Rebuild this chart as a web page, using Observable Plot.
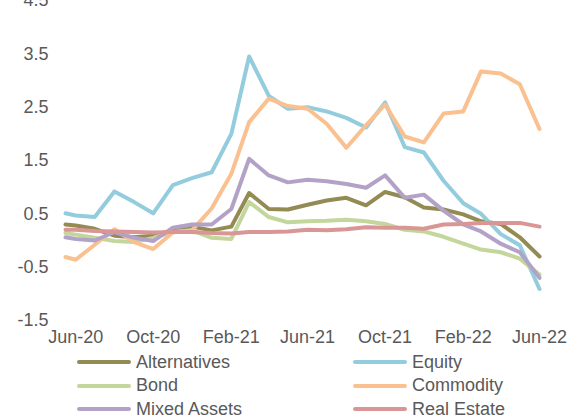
<!DOCTYPE html>
<html>
<head>
<meta charset="utf-8">
<script src="https://cdn.jsdelivr.net/npm/d3@7"></script>
<script src="https://cdn.jsdelivr.net/npm/@observablehq/plot@0.6"></script>
<style>
  html, body { margin: 0; padding: 0; background: #fff; }
  #wrap { width: 570px; height: 416px; overflow: hidden; position: relative; font-family: "Liberation Sans", Arial, sans-serif; }
  #legend { position: relative; height: 66px; }
  .item { position: absolute; display: flex; align-items: center; height: 24px; font-size: 18px; color: #595959; white-space: nowrap; }
  .sw { width: 54px; height: 4px; border-radius: 2px; margin-right: 5px; }
</style>
</head>
<body>
<div id="wrap"><div id="chart"></div><div id="legend"></div></div>
<script>
// Dates of the observations (first one is a partial-month point before Jun-20)
const dates = [
  "2020-05-16","2020-06-01","2020-07-01","2020-08-01","2020-09-01","2020-10-01","2020-11-01",
  "2020-12-01","2021-01-01","2021-02-01","2021-03-01","2021-04-01","2021-05-01","2021-06-01",
  "2021-07-01","2021-08-01","2021-09-01","2021-10-01","2021-11-01","2021-12-01","2022-01-01",
  "2022-02-01","2022-03-01","2022-04-01","2022-05-01","2022-06-01"
];
const seriesNames = ["Alternatives","Equity","Bond","Commodity","Mixed Assets","Real Estate"];
const seriesColors = ["#948A54","#93CDDD","#C3D69B","#FAC090","#B3A2C7","#D99694"];

const alternatives = [0.30,0.28,0.22,0.09,0.06,0.09,0.19,0.26,0.19,0.26,0.89,0.59,0.58,0.67,0.75,0.80,0.66,0.91,0.81,0.62,0.58,0.49,0.36,0.31,0.06,-0.30];
const equity       = [0.51,0.47,0.44,0.92,0.72,0.51,1.04,1.17,1.28,2.00,3.45,2.71,2.47,2.50,2.42,2.30,2.12,2.59,1.75,1.65,1.12,0.70,0.50,0.12,-0.09,-0.91];
const bond         = [0.14,0.11,0.05,-0.01,-0.03,0.05,0.16,0.19,0.05,0.03,0.72,0.44,0.34,0.36,0.37,0.39,0.36,0.31,0.20,0.17,0.07,-0.06,-0.17,-0.22,-0.34,-0.64];
const commodity    = [-0.31,-0.36,-0.08,0.21,-0.03,-0.16,0.15,0.19,0.60,1.25,2.22,2.66,2.52,2.47,2.19,1.74,2.16,2.55,1.95,1.84,2.38,2.42,3.17,3.13,2.93,2.09];
const mixedAssets  = [0.06,0.03,0.00,0.16,0.05,-0.01,0.24,0.30,0.30,0.59,1.53,1.22,1.09,1.14,1.11,1.06,0.99,1.22,0.80,0.86,0.56,0.30,0.17,-0.06,-0.22,-0.70];
const realEstate   = [0.20,0.20,0.18,0.17,0.16,0.15,0.16,0.16,0.14,0.13,0.16,0.16,0.17,0.20,0.19,0.21,0.25,0.24,0.24,0.22,0.30,0.31,0.33,0.33,0.33,0.26];

const xTickLabels = ["2020-06-01","2020-10-01","2021-02-01","2021-06-01","2021-10-01","2022-02-01","2022-06-01"];
const yTicks = [-1.5,-0.5,0.5,1.5,2.5,3.5,4.5];

const seriesValues = [alternatives, equity, bond, commodity, mixedAssets, realEstate];
const parse = d3.utcParse("%Y-%m-%d");
const rows = [];
seriesNames.forEach((name, s) => {
  seriesValues[s].forEach((v, i) => rows.push({series: name, date: parse(dates[i]), value: v}));
});

const chart = Plot.plot({
  width: 570,
  height: 350,
  marginLeft: 65,
  marginRight: 31,
  marginTop: 0,
  marginBottom: 30,
  style: {fontFamily: "'Liberation Sans', Arial, sans-serif", fontSize: "18px", color: "#595959", background: "#fff"},
  x: {
    type: "utc",
    domain: [parse(dates[0]), parse(dates[dates.length - 1])],
    ticks: xTickLabels.map(parse),
    tickFormat: d3.utcFormat("%b-%y"),
    tickSize: 0,
    tickPadding: 10,
    label: null
  },
  y: {
    domain: [-1.5, 4.5],
    ticks: yTicks,
    tickFormat: d => d.toFixed(1),
    tickSize: 0,
    tickPadding: 17,
    label: null
  },
  color: {domain: seriesNames, range: seriesColors},
  marks: [
    Plot.line(rows, {x: "date", y: "value", z: "series", stroke: "series",
      strokeWidth: 4, strokeLinejoin: "round", strokeLinecap: "round"})
  ]
});
document.getElementById("chart").appendChild(chart);

// Legend (row-wise, two columns)
const legend = document.getElementById("legend");
const colX = [77, 353];
seriesNames.forEach((name, i) => {
  const item = document.createElement("div");
  item.className = "item";
  item.style.left = colX[i % 2] + "px";
  item.style.top = (Math.floor(i / 2) * 23.5) + "px";
  const sw = document.createElement("div");
  sw.className = "sw";
  sw.style.background = seriesColors[i];
  const tx = document.createElement("span");
  tx.textContent = name;
  item.appendChild(sw);
  item.appendChild(tx);
  legend.appendChild(item);
});
</script>
</body>
</html>
